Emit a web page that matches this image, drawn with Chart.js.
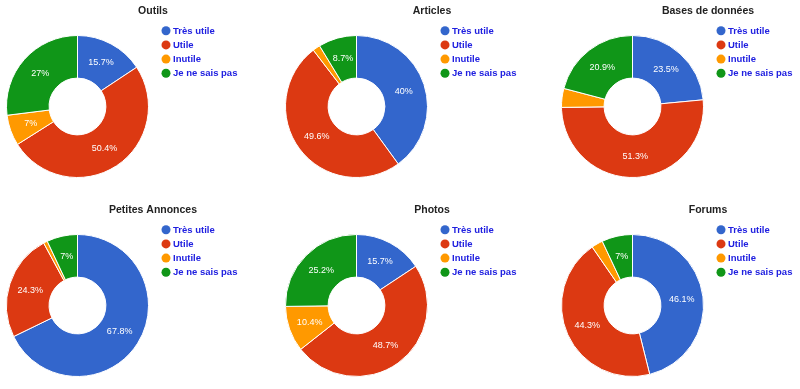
<!DOCTYPE html>
<html>
<head>
<meta charset="utf-8">
<script src="https://cdn.jsdelivr.net/npm/chart.js@4"></script>
<style>
  body { margin: 0; background: #fff; width: 800px; height: 389px; overflow: hidden; position: relative; }
  canvas { position: absolute; }
</style>
</head>
<body>
<canvas id="c0"></canvas>
<canvas id="c1"></canvas>
<canvas id="c2"></canvas>
<canvas id="c3"></canvas>
<canvas id="c4"></canvas>
<canvas id="c5"></canvas>
<script>
// donnees
const categories = ["Très utile", "Utile", "Inutile", "Je ne sais pas"];
const titles = ["Outils", "Articles", "Bases de données", "Petites Annonces", "Photos", "Forums"];

const outils = [15.7, 50.4, 7, 27];
const articles = [40, 49.6, 1.7, 8.7];
const basesDeDonnees = [23.5, 51.3, 4.3, 20.9];
const petitesAnnonces = [67.8, 24.3, 0.9, 7];
const photos = [15.7, 48.7, 10.4, 25.2];
const forums = [46.1, 44.3, 2.6, 7];

const series = [outils, articles, basesDeDonnees, petitesAnnonces, photos, forums];
const colors = ["#3366cc", "#dc3912", "#ff9900", "#109618"];

const panelLeft = [0, 279, 555, 0, 279, 555];
const panelTop = [0, 0, 0, 199, 199, 199];

const FONT = "'Liberation Sans', Arial, sans-serif";

// titre, legende et pourcentages
const decor = {
  id: "decor",
  afterDatasetsDraw(chart, args, opts) {
    const ctx = chart.ctx;
    const meta = chart.getDatasetMeta(0);
    const vals = chart.data.datasets[0].data;
    ctx.save();
    ctx.textAlign = "center";
    ctx.textBaseline = "middle";
    ctx.fillStyle = "#fff";
    ctx.font = "9px " + FONT;
    meta.data.forEach((arc, i) => {
      if (vals[i] < 5) return;
      const p = arc.tooltipPosition(true);
      ctx.fillText(vals[i] + "%", p.x, p.y);
    });

    ctx.fillStyle = "#222";
    ctx.font = "bold 10.5px " + FONT;
    ctx.fillText(opts.title, 153, 11);

    ctx.textAlign = "left";
    ctx.font = "bold 9.5px " + FONT;
    chart.data.labels.forEach((lab, i) => {
      const y = 30.7 + i * 14.2;
      ctx.fillStyle = colors[i];
      ctx.beginPath();
      ctx.arc(166, y, 4.5, 0, Math.PI * 2);
      ctx.fill();
      ctx.fillStyle = "#2020e0";
      ctx.fillText(lab, 173, y + 0.5);
    });
    ctx.restore();
  }
};

series.forEach((vals, k) => {
  const canvas = document.getElementById("c" + k);
  canvas.width = 270;
  canvas.height = 200;
  canvas.style.left = panelLeft[k] + "px";
  canvas.style.top = panelTop[k] + "px";

  new Chart(canvas.getContext("2d"), {
    type: "doughnut",
    data: {
      labels: categories,
      datasets: [{
        data: vals,
        backgroundColor: colors,
        borderColor: "#fff",
        borderWidth: 1,
        hoverOffset: 0
      }]
    },
    options: {
      responsive: false,
      animation: false,
      events: [],
      cutout: "40%",
      layout: { padding: { left: 6, top: 35, right: 121, bottom: 22 } },
      plugins: {
        legend: { display: false },
        tooltip: { enabled: false },
        decor: { title: titles[k] }
      }
    },
    plugins: [decor]
  });
});
</script>
</body>
</html>
